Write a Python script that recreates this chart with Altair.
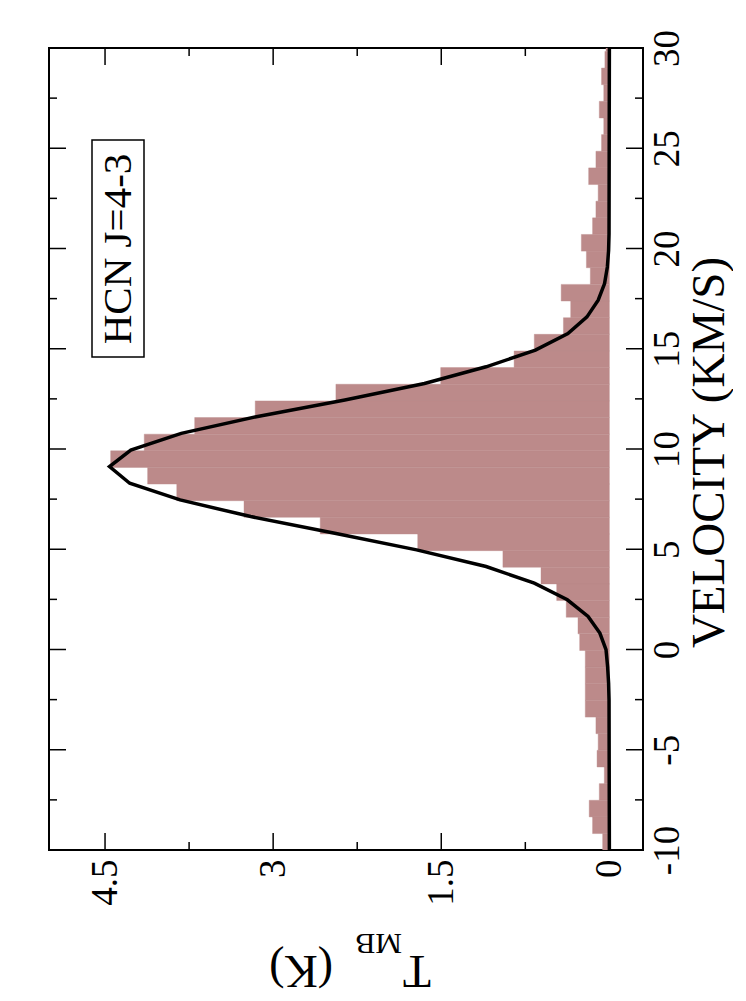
import altair as alt
import pandas as pd

# ---------------- data ----------------
# histogram bin edges (velocity, km/s), from top of plot to bottom
bin_edges = [30.66, 29.83, 29.00, 28.17, 27.34, 26.51, 25.68, 24.85, 24.02, 23.19,
             22.36, 21.53, 20.70, 19.87, 19.04, 18.21, 17.38, 16.55, 15.72, 14.89,
             14.06, 13.23, 12.40, 11.57, 10.74, 9.91, 9.08, 8.25, 7.42, 6.59,
             5.76, 4.93, 4.10, 3.27, 2.44, 1.61, 0.78, -0.05, -0.88, -1.71,
             -2.54, -3.37, -4.20, -5.03, -5.86, -6.69, -7.52, -8.35, -9.18, -10.01]
# histogram heights T_MB (K), one per bin
bin_temps = [0.03, 0.04, 0.07, 0.05, 0.09, 0.05, 0.07, 0.12, 0.185, 0.10,
             0.12, 0.15, 0.25, 0.205, 0.17, 0.43, 0.345, 0.41, 0.67, 0.85,
             1.505, 2.44, 3.16, 3.70, 4.15, 4.45, 4.12, 3.86, 3.26, 2.58,
             1.71, 0.95, 0.61, 0.47, 0.385, 0.28, 0.265, 0.215, 0.215, 0.215,
             0.215, 0.12, 0.10, 0.11, 0.045, 0.09, 0.18, 0.15, 0.06]

# gaussian fit line vertices
fit_velocity = [-10.0, -2.50, -1.67, -0.84, -0.01, 0.82, 1.65, 2.48, 3.31, 4.14,
                4.97, 5.80, 6.63, 7.46, 8.29, 9.12, 9.95, 10.78, 11.61, 12.44,
                13.27, 14.10, 14.93, 15.76, 16.59, 17.42, 18.25, 19.08, 19.91, 20.74,
                30.0]
fit_temp = [0.0, 0.003, 0.007, 0.016, 0.03, 0.085, 0.19, 0.375, 0.67, 1.10,
            1.72, 2.45, 3.20, 3.83, 4.28, 4.46, 4.27, 3.82, 3.15, 2.36,
            1.65, 1.10, 0.66, 0.37, 0.20, 0.10, 0.043, 0.018, 0.007, 0.003,
            0.0]

vel_major = [-10, -5, 0, 5, 10, 15, 20, 25, 30]
vel_minor = [-7.5, -2.5, 2.5, 7.5, 12.5, 17.5, 22.5, 27.5]
temp_major = [0, 1.5, 3, 4.5]
temp_minor = [0.75, 2.25, 3.75]

title_parts = ["T", "MB", "(K)"]
label_text = ["HCN J=4-3"]

# ---------------- chart ----------------
W, H = 594, 802
FONT = "Liberation Serif"
BAR = "#bc8a8a"

bars = pd.DataFrame({"v_top": bin_edges[:-1], "v_bot": bin_edges[1:], "T": bin_temps})
fit = pd.DataFrame({"v": fit_velocity, "T": fit_temp})

xscale = alt.Scale(domain=[-0.3, 5.0], reverse=True, nice=False, zero=False)
yscale = alt.Scale(domain=[-10, 30], nice=False, zero=False)

xaxis = alt.Axis(values=temp_major, labelAngle=270, labelFont=FONT, labelFontSize=37,
                 labelColor="black", ticks=False, domain=False, grid=False,
                 labelPadding=9, labelExpr="datum.value + ''", title=None,
                 labelAlign="right", labelBaseline="middle", labelOverlap=False)
yaxis = alt.Axis(orient="right", values=vel_major, labelAngle=270, labelFont=FONT,
                 labelFontSize=37, labelColor="black", ticks=False, domain=False,
                 grid=False, labelPadding=6, labelAlign="center", labelBaseline="top",
                 labelExpr="datum.value + ''", labelOverlap=False,
                 title="VELOCITY (KM/S)", titleFont=FONT, titleFontSize=47,
                 titleFontWeight="normal", titleColor="black", titleAngle=270,
                 titleAlign="center", titleBaseline="top", titleX=43, titleY=404)

X = alt.X("T:Q", scale=xscale, axis=xaxis)
Y = alt.Y("v:Q", scale=yscale, axis=yaxis)

bar_layer = alt.Chart(bars).mark_rect(color=BAR, stroke=BAR, strokeWidth=0.4, clip=True).encode(
    x=X,
    x2=alt.datum(0),
    y=alt.Y("v_top:Q", scale=yscale, axis=yaxis),
    y2="v_bot:Q",
)

line_layer = alt.Chart(fit).mark_line(color="black", strokeWidth=3.5, clip=True).encode(
    x=X, y=Y, order="v:Q"
)

vmaj = pd.DataFrame({"v": vel_major})
vmin = pd.DataFrame({"v": vel_minor})
tmaj = pd.DataFrame({"T": temp_major})
tmin = pd.DataFrame({"T": temp_minor})

tick_style = dict(color="black", strokeWidth=1.5)
ticks = [
    alt.Chart(vmaj).mark_rule(**tick_style).encode(y=Y, x=alt.value(W), x2=alt.value(W - 17)),
    alt.Chart(vmaj).mark_rule(**tick_style).encode(y=Y, x=alt.value(0), x2=alt.value(17)),
    alt.Chart(vmin).mark_rule(**tick_style).encode(y=Y, x=alt.value(W), x2=alt.value(W - 8)),
    alt.Chart(vmin).mark_rule(**tick_style).encode(y=Y, x=alt.value(0), x2=alt.value(8)),
    alt.Chart(tmaj).mark_rule(**tick_style).encode(x=X, y=alt.value(H), y2=alt.value(H - 17)),
    alt.Chart(tmaj).mark_rule(**tick_style).encode(x=X, y=alt.value(0), y2=alt.value(17)),
    alt.Chart(tmin).mark_rule(**tick_style).encode(x=X, y=alt.value(H), y2=alt.value(H - 8)),
    alt.Chart(tmin).mark_rule(**tick_style).encode(x=X, y=alt.value(0), y2=alt.value(8)),
]

one = pd.DataFrame({"label": label_text})
box = alt.Chart(one).mark_rect(fill="white", stroke="black", strokeWidth=1.5).encode(
    x=alt.value(43), x2=alt.value(95), y=alt.value(92), y2=alt.value(309)
)
box_text = alt.Chart(one).mark_text(font=FONT, fontSize=41, angle=270, align="center",
                                     baseline="middle", color="black").encode(
    x=alt.value(70), y=alt.value(201), text="label:N"
)

tdf = pd.DataFrame({"label": [title_parts[0]]})
mbdf = pd.DataFrame({"label": [title_parts[1]]})
kdf = pd.DataFrame({"label": [title_parts[2]]})
t_text = alt.Chart(tdf).mark_text(font=FONT, fontSize=46, angle=180, align="left",
                                  baseline="alphabetic", color="black").encode(
    x=alt.value(382), y=alt.value(908), text="label:N")
mb_text = alt.Chart(mbdf).mark_text(font=FONT, fontSize=30, angle=180, align="left",
                                    baseline="alphabetic", color="black").encode(
    x=alt.value(353), y=alt.value(886), text="label:N")
k_text = alt.Chart(kdf).mark_text(font=FONT, fontSize=46, angle=180, align="left",
                                  baseline="alphabetic", color="black").encode(
    x=alt.value(284), y=alt.value(908), text="label:N")

chart = alt.layer(
    bar_layer, line_layer, *ticks, box, box_text, t_text, mb_text, k_text
).properties(
    width=W, height=H,
    padding={"left": 41, "top": 40, "right": 90, "bottom": 150},
    autosize=alt.AutoSizeParams(type="none"),
    background="white",
).configure_view(stroke="black", strokeWidth=2)

chart.save("out.html", embed_options={"renderer": "svg", "actions": False})
